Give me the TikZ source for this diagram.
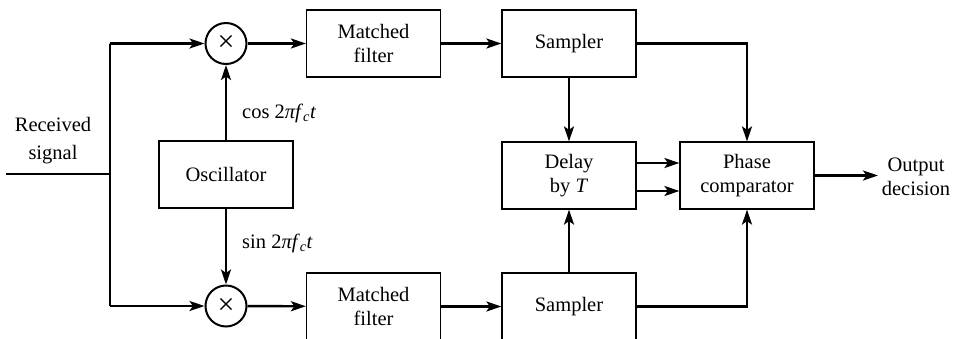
\documentclass[tikz,border=0pt]{standalone}
\usepackage{fontspec}
\setmainfont{Liberation Serif}
\newfontfamily\tms{Liberation Serif}
\usetikzlibrary{arrows.meta,calc}
\begin{document}
\begin{tikzpicture}[x=1pt,y=-1pt,
  every node/.style={font=\tms\fontsize{20.5}{24}\selectfont},
  blk/.style={draw, line width=1.2pt, minimum width=134pt, minimum height=67pt, align=center, inner sep=0pt},
  mult/.style={draw, circle, line width=2pt, minimum size=41pt, inner sep=0pt, font=\tms\fontsize{30}{30}\selectfont},
  wire/.style={line width=2.4pt},
  conn/.style={line width=2.4pt, -{Stealth[length=15pt,width=10pt,inset=3.5pt]}},
  lbl/.style={align=center, inner sep=0pt}
]
\useasboundingbox (0,0) rectangle (959,338);
\clip (0,0) rectangle (959,338);
% nodes
\node[blk] (osc) at (226,174.5) {Oscillator};
\node[mult] (m1) at (226,43.5) {×};
\node[mult] (m2) at (226,306) {×};
\node[blk] (mf1) at (373.5,43.5) {Matched\\filter};
\node[blk] (mf2) at (373.5,306.5) {Matched\\filter};
\node[blk] (s1) at (569,43.5) {Sampler};
\node[blk] (s2) at (569,306.5) {Sampler};
\node[blk] (del) at (569,175.5) {Delay\\by \textit{T}};
\node[blk] (pc) at (747,175.5) {Phase\\comparator};
\node[lbl, font=\tms\fontsize{20.5}{28}\selectfont] (rs) at (53,141) {Received\\signal};
\node[lbl] (od) at (916,177) {Output\\decision};
\node[anchor=west, inner sep=0pt] (cl) at (242,113) {cos 2\textit{πf}\textsubscript{\textit{c}}\textit{t}};
\node[anchor=west, inner sep=0pt] (sl) at (242,243) {sin 2\textit{πf}\textsubscript{\textit{c}}\textit{t}};
\coordinate (in) at (6,174);
\coordinate (j) at (110,174);
\coordinate (out) at (878,175.5);
% connectors
\draw[wire] (in) -- (j);
\draw[wire] (j) -- (j |- m1) -- (j |- m2);
\draw[conn] (j |- m1) -- (m1);
\draw[conn] (j |- m2) -- (m2);
\draw[conn] (osc) -- (m1);
\draw[conn] (osc) -- (m2);
\draw[conn] (m1) -- (mf1);
\draw[conn] (m2) -- (mf2);
\draw[conn] (mf1) -- (s1);
\draw[conn] (mf2) -- (s2);
\draw[conn] (s1) -- (del);
\draw[conn] (s2) -- (del);
\draw[conn] (s1.east) -| (pc.north);
\draw[conn] (s2.east) -| (pc.south);
\draw[conn] ([yshift=12.5pt]del.east) -- ([yshift=12.5pt]pc.west);
\draw[conn] ([yshift=-15.5pt]del.east) -- ([yshift=-15.5pt]pc.west);
\draw[conn] (pc) -- (out);
\end{tikzpicture}
\end{document}
